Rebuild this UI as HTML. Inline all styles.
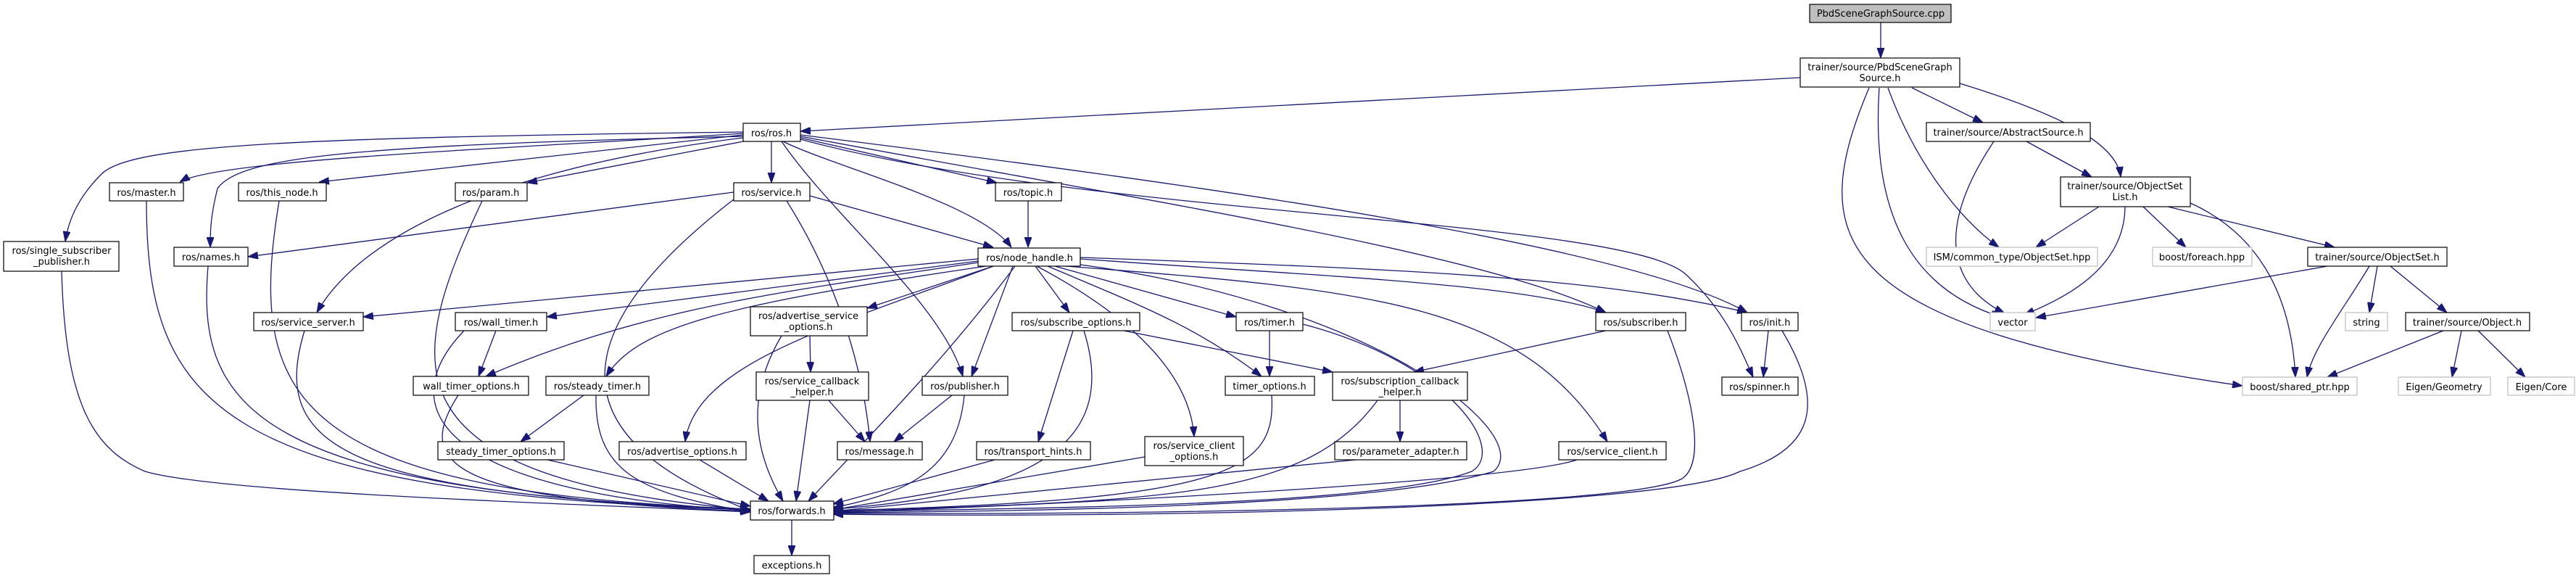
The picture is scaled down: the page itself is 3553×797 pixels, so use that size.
<!DOCTYPE html>
<html><head><meta charset="utf-8"><style>
html,body{margin:0;padding:0;background:#fff;}
svg{display:block;}
text{font-family:"DejaVu Sans","Liberation Sans",sans-serif;font-size:13px;fill:#000;text-anchor:middle;}
.n{fill:#fff;stroke:#000;stroke-width:1.2;}
.g{fill:#fff;stroke:#bfbfbf;stroke-width:1.2;}
.e path{fill:none;stroke:#191970;stroke-width:1.3;marker-end:url(#a);}
</style></head><body>
<svg width="3553" height="797" viewBox="0 0 3553 797" xmlns="http://www.w3.org/2000/svg">
<defs><marker id="a" markerUnits="userSpaceOnUse" markerWidth="14" markerHeight="10" refX="14" refY="5" orient="auto"><path d="M0,0 L14,5 L0,10 z" fill="#191970" stroke="#191970"/></marker></defs>
<g class="e">
<path d="M2594,31 L2594,80"/>
<path d="M2483,107 L1104,181"/>
<path d="M2637,121 L2735,169"/>
<path d="M2703,115 C2850,160 2920,200 2925,244"/>
<path d="M2604,121 C2640,220 2700,300 2757,341"/>
<path d="M2592,121 C2580,300 2640,400 2760,437"/>
<path d="M2578,121 C2490,330 2520,450 3093,532"/>
<path d="M2795,195 L2885,244"/>
<path d="M2750,195 C2660,330 2700,400 2765,432"/>
<path d="M2895,285 L2808,341"/>
<path d="M2956,285 L3015,341"/>
<path d="M2990,285 L3220,341"/>
<path d="M2931,285 C2930,370 2850,410 2792,434"/>
<path d="M3021,280 C3110,320 3160,400 3166,520"/>
<path d="M3210,367 L2808,438"/>
<path d="M3279,367 L3268,431"/>
<path d="M3297,367 L3375,431"/>
<path d="M3268,367 C3230,430 3190,480 3182,520"/>
<path d="M3370,456 L3210,520"/>
<path d="M3395,456 L3382,520"/>
<path d="M3418,456 L3483,520"/>
<path d="M1025,184 C700,205 300,220 248,251"/>
<path d="M1025,186 L440,251"/>
<path d="M1025,195 L727,252"/>
<path d="M1064,195 L1064,252"/>
<path d="M1025,182 C400,190 180,200 140,240 C110,270 95,300 90,333"/>
<path d="M1025,188 C500,200 330,215 300,260 C290,300 290,320 290,341"/>
<path d="M1080,195 C1150,230 1350,280 1395,341"/>
<path d="M1104,190 L1375,252"/>
<path d="M1078,195 C1150,300 1300,420 1328,519"/>
<path d="M1025,190 C700,230 500,320 437,431"/>
<path d="M1104,188 C1600,280 2050,350 2215,431"/>
<path d="M1104,186 C1700,260 2250,340 2410,431"/>
<path d="M1104,192 C1500,300 2250,300 2327,380 C2380,430 2400,480 2418,520"/>
<path d="M85,374 C90,560 130,620 200,650 C300,680 800,695 1035,706"/>
<path d="M202,277 C202,560 300,680 1035,703"/>
<path d="M385,277 C340,550 400,680 1035,702"/>
<path d="M287,367 C270,560 350,680 1035,702"/>
<path d="M665,277 C560,500 520,660 1035,703"/>
<path d="M420,456 C370,620 480,680 1035,703"/>
<path d="M1012,275 C850,400 700,580 1035,704"/>
<path d="M640,456 C540,560 600,680 1035,704"/>
<path d="M632,545 C570,640 620,690 1035,705"/>
<path d="M822,545 C820,650 880,680 1035,706"/>
<path d="M755,634 L1035,698"/>
<path d="M965,634 L1060,691"/>
<path d="M1078,463 C1020,560 1050,640 1080,691"/>
<path d="M1117,552 L1098,691"/>
<path d="M1400,367 C1300,500 1200,600 1115,691"/>
<path d="M1330,545 C1320,650 1250,680 1149,700"/>
<path d="M1372,634 L1149,695"/>
<path d="M1495,456 C1540,600 1450,680 1149,702"/>
<path d="M1579,630 L1149,703"/>
<path d="M1754,545 C1760,650 1700,690 1149,704"/>
<path d="M1900,552 C1800,690 1600,690 1149,705"/>
<path d="M1870,634 L1149,705"/>
<path d="M1797,447 C2000,500 2080,620 2030,650 C1900,700 1400,700 1149,706"/>
<path d="M1490,365 C1900,420 2120,600 2060,650 C1900,700 1400,705 1149,707"/>
<path d="M2175,634 C2100,660 1600,690 1149,707"/>
<path d="M2300,456 C2340,560 2350,640 2320,660 C2250,700 1600,710 1149,708"/>
<path d="M2458,456 C2520,560 2500,620 2400,650 C2300,700 1600,715 1149,709"/>
<path d="M1349,357 L501,437"/>
<path d="M1349,360 L754,437"/>
<path d="M1349,362 C1100,400 900,420 670,519"/>
<path d="M1360,367 C1000,420 880,450 836,519"/>
<path d="M1370,367 L1196,425"/>
<path d="M1370,367 C1150,450 960,500 945,609"/>
<path d="M1397,367 L1340,519"/>
<path d="M1428,367 L1475,431"/>
<path d="M1455,367 L1705,437"/>
<path d="M1445,367 C1570,420 1650,450 1740,519"/>
<path d="M1430,367 C1530,420 1640,500 1647,602"/>
<path d="M1490,357 C1800,380 2100,390 2215,431"/>
<path d="M1490,355 C1900,370 2200,380 2410,431"/>
<path d="M1470,367 C1900,400 2100,420 2217,609"/>
<path d="M1012,265 L342,354"/>
<path d="M1117,270 L1370,341"/>
<path d="M1085,277 C1150,380 1190,500 1200,609"/>
<path d="M1418,277 L1418,341"/>
<path d="M684,456 L660,519"/>
<path d="M805,545 L718,609"/>
<path d="M1117,463 L1118,513"/>
<path d="M1143,552 L1193,609"/>
<path d="M1313,545 L1233,609"/>
<path d="M1480,456 L1432,609"/>
<path d="M1550,456 L1838,513"/>
<path d="M1751,456 L1751,519"/>
<path d="M2215,456 L1950,513"/>
<path d="M1931,552 L1931,609"/>
<path d="M2439,456 L2432,520"/>
<path d="M1092,717 L1092,766"/>
</g>
<g>
<rect x="2496" y="6" width="195" height="25" fill="#bfbfbf" stroke="#000" stroke-width="1.2"/><text x="2594" y="23">PbdSceneGraphSource.cpp</text>
<rect class="n" x="2483" y="80" width="220" height="40"/><text x="2593" y="97">trainer/source/PbdSceneGraph</text><text x="2593" y="112">Source.h</text>
<rect class="n" x="2657" y="169" width="226" height="26"/><text x="2770" y="187">trainer/source/AbstractSource.h</text>
<rect class="n" x="2842" y="244" width="179" height="41"/><text x="2931" y="261">trainer/source/ObjectSet</text><text x="2931" y="276">List.h</text>
<rect class="g" x="2657" y="341" width="236" height="26"/><text x="2775" y="359">ISM/common_type/ObjectSet.hpp</text>
<rect class="g" x="2969" y="341" width="137" height="26"/><text x="3037" y="359">boost/foreach.hpp</text>
<rect class="n" x="3183" y="341" width="192" height="26"/><text x="3279" y="359">trainer/source/ObjectSet.h</text>
<rect class="g" x="2745" y="431" width="62" height="25"/><text x="2776" y="449">vector</text>
<rect class="g" x="3235" y="431" width="58" height="25"/><text x="3264" y="449">string</text>
<rect class="n" x="3318" y="431" width="171" height="25"/><text x="3403" y="449">trainer/source/Object.h</text>
<rect class="g" x="3093" y="520" width="158" height="25"/><text x="3172" y="538">boost/shared_ptr.hpp</text>
<rect class="g" x="3308" y="520" width="127" height="25"/><text x="3371" y="538">Eigen/Geometry</text>
<rect class="g" x="3459" y="520" width="92" height="25"/><text x="3505" y="538">Eigen/Core</text>
<rect class="n" x="1025" y="170" width="79" height="25"/><text x="1064" y="188">ros/ros.h</text>
<rect class="n" x="151" y="252" width="102" height="25"/><text x="202" y="270">ros/master.h</text>
<rect class="n" x="329" y="252" width="121" height="25"/><text x="389" y="270">ros/this_node.h</text>
<rect class="n" x="628" y="252" width="99" height="25"/><text x="677" y="270">ros/param.h</text>
<rect class="n" x="1012" y="252" width="105" height="25"/><text x="1064" y="270">ros/service.h</text>
<rect class="n" x="1373" y="252" width="91" height="25"/><text x="1418" y="270">ros/topic.h</text>
<rect class="n" x="5" y="333" width="159" height="41"/><text x="85" y="350">ros/single_subscriber</text><text x="85" y="365">_publisher.h</text>
<rect class="n" x="240" y="341" width="102" height="26"/><text x="291" y="359">ros/names.h</text>
<rect class="n" x="1349" y="342" width="141" height="25"/><text x="1420" y="360">ros/node_handle.h</text>
<rect class="n" x="350" y="431" width="151" height="25"/><text x="425" y="449">ros/service_server.h</text>
<rect class="n" x="628" y="431" width="126" height="25"/><text x="691" y="449">ros/wall_timer.h</text>
<rect class="n" x="1035" y="423" width="161" height="40"/><text x="1115" y="440">ros/advertise_service</text><text x="1115" y="455">_options.h</text>
<rect class="n" x="1396" y="431" width="176" height="25"/><text x="1484" y="449">ros/subscribe_options.h</text>
<rect class="n" x="1705" y="431" width="92" height="25"/><text x="1751" y="449">ros/timer.h</text>
<rect class="n" x="2201" y="431" width="124" height="25"/><text x="2263" y="449">ros/subscriber.h</text>
<rect class="n" x="2402" y="431" width="78" height="25"/><text x="2441" y="449">ros/init.h</text>
<rect class="n" x="570" y="519" width="159" height="26"/><text x="650" y="537">wall_timer_options.h</text>
<rect class="n" x="753" y="519" width="142" height="26"/><text x="824" y="537">ros/steady_timer.h</text>
<rect class="n" x="1043" y="513" width="155" height="39"/><text x="1120" y="530">ros/service_callback</text><text x="1120" y="545">_helper.h</text>
<rect class="n" x="1272" y="519" width="118" height="26"/><text x="1331" y="537">ros/publisher.h</text>
<rect class="n" x="1690" y="519" width="123" height="26"/><text x="1751" y="537">timer_options.h</text>
<rect class="n" x="1838" y="513" width="186" height="39"/><text x="1931" y="530">ros/subscription_callback</text><text x="1931" y="545">_helper.h</text>
<rect class="n" x="2375" y="520" width="105" height="25"/><text x="2427" y="538">ros/spinner.h</text>
<rect class="n" x="604" y="609" width="174" height="25"/><text x="691" y="627">steady_timer_options.h</text>
<rect class="n" x="854" y="609" width="175" height="25"/><text x="941" y="627">ros/advertise_options.h</text>
<rect class="n" x="1155" y="609" width="117" height="25"/><text x="1213" y="627">ros/message.h</text>
<rect class="n" x="1347" y="609" width="157" height="25"/><text x="1425" y="627">ros/transport_hints.h</text>
<rect class="n" x="1579" y="602" width="136" height="40"/><text x="1647" y="619">ros/service_client</text><text x="1647" y="634">_options.h</text>
<rect class="n" x="1841" y="609" width="182" height="25"/><text x="1932" y="627">ros/parameter_adapter.h</text>
<rect class="n" x="2150" y="609" width="148" height="25"/><text x="2224" y="627">ros/service_client.h</text>
<rect class="n" x="1035" y="691" width="115" height="26"/><text x="1092" y="709">ros/forwards.h</text>
<rect class="n" x="1040" y="766" width="104" height="25"/><text x="1092" y="784">exceptions.h</text>
</g>
</svg>
</body></html>
